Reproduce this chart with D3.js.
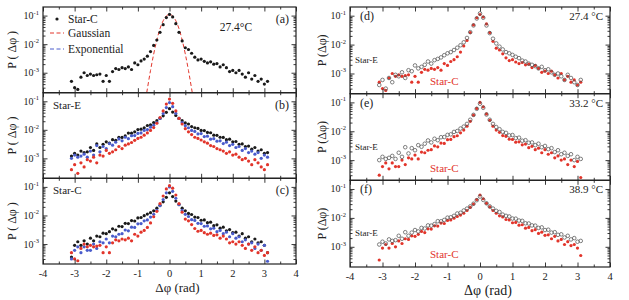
<!DOCTYPE html>
<html><head><meta charset="utf-8">
<script src="https://cdn.jsdelivr.net/npm/d3@7"></script>
<style>
body{margin:0;background:#fff}
svg{display:block}
text{font-family:"Liberation Serif","Times New Roman",serif;fill:#222}
</style>
</head><body>
<svg id="c" width="629" height="300" font-family="Liberation Serif, Times New Roman, serif"></svg>
<script>
// ---------------- data ----------------
const phi = [-3.1,-3.0,-2.9,-2.8,-2.7,-2.6,-2.5,-2.4,-2.3,-2.2,-2.1,-2.0,-1.9,-1.8,-1.7,-1.6,-1.5,-1.4,-1.3,-1.2,-1.1,-1.0,-0.9,-0.8,-0.7,-0.6,-0.5,-0.4,-0.3,-0.2,-0.1,
  0,0.1,0.2,0.3,0.4,0.5,0.6,0.7,0.8,0.9,1.0,1.1,1.2,1.3,1.4,1.5,1.6,1.7,1.8,1.9,2.0,2.1,2.2,2.3,2.4,2.5,2.6,2.7,2.8,2.9,3.0,3.1];

// Star-C, 27.4 °C
const starC274 = [0.0005,0.0003,0.00026,0.0007,0.001,0.0008,0.0009,0.0008,0.00085,0.0009,0.0005,0.0008,0.0005,0.0011,0.0014,0.0013,0.0015,0.0014,0.0016,0.0013,0.0022,0.0019,0.0026,0.003,0.0038,0.0055,0.009,0.014,0.026,0.048,0.085,
  0.11,0.09,0.052,0.026,0.013,0.0075,0.0065,0.0048,0.0035,0.0028,0.003,0.0025,0.0022,0.0024,0.002,0.0021,0.0016,0.0019,0.0015,0.0011,0.0012,0.001,0.0012,0.0009,0.0007,0.001,0.0006,0.0008,0.0005,0.0006,0.0004,0.0005];
// Star-E, 27.4 °C
const starE274 = [0.0004,0.0006,0.0003,0.0007,0.0005,0.0009,0.0008,0.0011,0.0007,0.0013,0.0012,0.0019,0.0015,0.0017,0.002,0.0026,0.0022,0.0029,0.0032,0.0036,0.0043,0.005,0.0055,0.0065,0.0078,0.0095,0.012,0.017,0.027,0.046,0.08,
  0.12,0.085,0.046,0.025,0.016,0.011,0.0085,0.0068,0.0055,0.005,0.0044,0.0038,0.0034,0.0028,0.0026,0.0022,0.002,0.0018,0.0015,0.0017,0.0013,0.0014,0.0011,0.0009,0.001,0.0008,0.0006,0.0009,0.0007,0.0005,0.0004,0.0006];
// Star-E, 33.2 °C
const starE332 = [0.001,0.0013,0.0011,0.0012,0.0014,0.0011,0.0018,0.0013,0.0028,0.0017,0.0026,0.0022,0.0033,0.0029,0.0037,0.0048,0.0041,0.0055,0.0049,0.0062,0.0063,0.0075,0.0078,0.0095,0.0102,0.0124,0.0145,0.018,0.025,0.037,0.06,
  0.09,0.065,0.038,0.025,0.018,0.014,0.0118,0.0095,0.0088,0.0072,0.0074,0.0058,0.006,0.0047,0.0049,0.004,0.0041,0.0033,0.0037,0.0028,0.0031,0.0024,0.0026,0.0019,0.0022,0.0016,0.0018,0.0014,0.0016,0.001,0.0013,0.0011];
// Star-C, 33.2 °C
const starC332 = [0.0003,0.0006,0.0008,0.0005,0.0008,0.0006,0.0006,0.001,0.0007,0.0012,0.0011,0.0015,0.0011,0.0019,0.0018,0.0022,0.0023,0.0031,0.0029,0.0039,0.0038,0.0051,0.0052,0.0065,0.007,0.0088,0.011,0.015,0.022,0.036,0.062,
  0.1,0.07,0.04,0.024,0.015,0.011,0.0092,0.0071,0.0067,0.0053,0.0052,0.0042,0.0043,0.0034,0.0036,0.0027,0.003,0.0023,0.0026,0.0018,0.0023,0.0016,0.0018,0.0012,0.0014,0.001,0.0011,0.0007,0.001,0.0006,0.0009,0.00025];
// Star-E, 38.9 °C
const starE389 = [0.0012,0.0015,0.0013,0.0018,0.0016,0.0017,0.0024,0.0019,0.0032,0.0024,0.0031,0.0038,0.0034,0.0045,0.0043,0.0055,0.0054,0.0061,0.0077,0.0076,0.0085,0.0102,0.0105,0.0118,0.0142,0.015,0.018,0.021,0.025,0.031,0.041,
  0.055,0.042,0.032,0.025,0.021,0.0175,0.016,0.013,0.0118,0.0112,0.0095,0.0094,0.0081,0.0079,0.0065,0.0064,0.0055,0.0054,0.0045,0.0047,0.0038,0.0039,0.0031,0.0032,0.0026,0.0027,0.0021,0.0024,0.0018,0.002,0.0015,0.0016];
// Star-C, 38.9 °C
const starC389 = [0.00035,0.0009,0.0012,0.0009,0.0013,0.001,0.0016,0.0013,0.0019,0.0018,0.0024,0.0023,0.0027,0.0034,0.0031,0.0042,0.0041,0.0053,0.0052,0.0066,0.0064,0.0082,0.0085,0.0098,0.0112,0.0125,0.0145,0.018,0.023,0.03,0.043,
  0.062,0.046,0.032,0.024,0.018,0.0145,0.0118,0.0108,0.0088,0.0085,0.0068,0.007,0.0056,0.0058,0.0044,0.0047,0.0036,0.0039,0.0029,0.0032,0.0025,0.0026,0.0019,0.0023,0.0016,0.0018,0.0012,0.0015,0.0011,0.0012,0.0009,0.0005];

// Gaussian fit curve in panel (a)
const gaussX = [-0.72,-0.6,-0.5,-0.4,-0.3,-0.2,-0.1,0,0.1,0.2,0.3,0.4,0.5,0.6,0.72];
const gaussY = [0.0002,0.0012,0.0045,0.014,0.035,0.066,0.097,0.11,0.097,0.066,0.035,0.014,0.0045,0.0012,0.0002];

const xTicks = [-4,-3,-2,-1,0,1,2,3,4];
const xTickLabels = ["-4","-3","-2","-1","0","1","2","3","4"];
const xMinor = [-3.5,-2.5,-1.5,-0.5,0.5,1.5,2.5,3.5];
const yTicks = [0.1,0.01,0.001];
const yTickExp = ["-1","-2","-3"];

// ---------------- layout ----------------
const BLACK="#1a1a1a", BLUE="#4a5ccc", RED="#e2352b", GREY="#555";
const FONT = "Liberation Serif, Times New Roman, serif";
const svg = d3.select("#c");
const yMinor = [];
[1e-4,1e-3,1e-2].forEach(d=>{for(let k=2;k<=9;k++){const v=k*d; if(v>2.01e-4) yMinor.push(v);}});

const panels = [
 {id:"a", x0:43, x1:296, top:7, h:85.7, bottom:false, col:"L",
  series:[{v:starC274, kind:"dot", c:BLACK}], label:"(a)", temp:"27.4°C"},
 {id:"b", x0:43, x1:296, top:92.7, h:85.6, bottom:false, col:"L",
  series:[{v:starE389,kind:"dot",c:BLACK},{v:starE332,kind:"dot",c:BLUE},{v:starE274,kind:"dot",c:RED}], label:"(b)", name:"Star-E"},
 {id:"c", x0:43, x1:296, top:178.3, h:85.7, bottom:true, col:"L",
  series:[{v:starC389,kind:"dot",c:BLACK},{v:starC332,kind:"dot",c:BLUE},{v:starC274,kind:"dot",c:RED}], label:"(c)", name:"Star-C"},
 {id:"d", x0:350, x1:610, top:7, h:86.7, bottom:false, col:"R",
  series:[{v:starC274,kind:"dot",c:RED},{v:starE274,kind:"ring",c:GREY}], label:"(d)", temp:"27.4 °C"},
 {id:"e", x0:350, x1:610, top:93.7, h:86.6, bottom:false, col:"R",
  series:[{v:starC332,kind:"dot",c:RED},{v:starE332,kind:"ring",c:GREY}], label:"(e)", temp:"33.2 °C"},
 {id:"f", x0:350, x1:610, top:180.3, h:86.7, bottom:true, col:"R",
  series:[{v:starC389,kind:"dot",c:RED},{v:starE389,kind:"ring",c:GREY}], label:"(f)", temp:"38.9 °C"}
];

const defs = svg.append("defs");
const txt = (g) => g.append("text").attr("font-family",FONT);

panels.forEach(p=>{
  const bot = p.top+p.h;
  const x = d3.scaleLinear().domain([-4,4]).range([p.x0,p.x1]);
  const y = d3.scaleLog().domain([2e-4,0.2]).range([bot,p.top]);
  const g = svg.append("g");
  defs.append("clipPath").attr("id","clip"+p.id).append("rect")
    .attr("x",p.x0).attr("y",p.top).attr("width",p.x1-p.x0).attr("height",p.h);
  const plot = g.append("g").attr("clip-path","url(#clip"+p.id+")");

  if(p.id==="a"){
    const line = d3.line().x((d,i)=>x(gaussX[i])).y(d=>y(d)).curve(d3.curveMonotoneX);
    plot.append("path").attr("d",line(gaussY)).attr("fill","none").attr("stroke",RED)
      .attr("stroke-width",1).attr("stroke-dasharray","4,2.5");
  }
  p.series.forEach(s=>{
    const pts = plot.append("g").selectAll("circle").data(s.v).join("circle")
      .attr("cx",(d,i)=>x(phi[i])).attr("cy",d=>y(d));
    if(s.kind==="dot") pts.attr("r",1.6).attr("fill",s.c);
    else pts.attr("r",1.8).attr("fill","none").attr("stroke",s.c).attr("stroke-width",0.75);
  });

  const tk = (axis, tr) => g.append("g").attr("transform",tr).call(axis)
      .call(a=>{a.select(".domain").remove(); a.selectAll("line").attr("stroke","#222").attr("stroke-width",0.9);});
  tk(d3.axisBottom(x).tickValues(xTicks).tickSize(-4.5).tickFormat(""), `translate(0,${bot})`);
  tk(d3.axisBottom(x).tickValues(xMinor).tickSize(-2.5).tickFormat(""), `translate(0,${bot})`);
  tk(d3.axisTop(x).tickValues(xTicks).tickSize(-4.5).tickFormat(""), `translate(0,${p.top})`);
  tk(d3.axisTop(x).tickValues(xMinor).tickSize(-2.5).tickFormat(""), `translate(0,${p.top})`);
  tk(d3.axisLeft(y).tickValues(yTicks).tickSize(-4.5).tickFormat(""), `translate(${p.x0},0)`);
  tk(d3.axisLeft(y).tickValues(yMinor).tickSize(-2.5).tickFormat(""), `translate(${p.x0},0)`);
  tk(d3.axisRight(y).tickValues(yTicks).tickSize(-4.5).tickFormat(""), `translate(${p.x1},0)`);
  tk(d3.axisRight(y).tickValues(yMinor).tickSize(-2.5).tickFormat(""), `translate(${p.x1},0)`);

  g.append("rect").attr("x",p.x0).attr("y",p.top).attr("width",p.x1-p.x0).attr("height",p.h)
    .attr("fill","none").attr("stroke","#222").attr("stroke-width",1.2);

  yTicks.forEach((v,i)=>{
    const t = txt(g).attr("x",p.x0-4).attr("y",y(v)+3.5).attr("text-anchor","end").attr("font-size",10);
    t.append("tspan").text("10");
    t.append("tspan").attr("font-size",6.5).attr("dy",-4.5).text(yTickExp[i]);
  });
  const yc = p.top+p.h/2;
  const tx = p.col==="L" ? 16 : 326;
  txt(g).attr("transform",`translate(${tx},${yc}) rotate(-90)`).attr("text-anchor","middle")
    .attr("font-size",12).text(p.col==="L" ? "P ( Δφ )" : "P (Δφ)");

  if(p.bottom){
    xTicks.forEach((v,i)=>{
      txt(g).attr("x",x(v)).attr("y",bot+13).attr("text-anchor","middle").attr("font-size",10.5).text(xTickLabels[i]);
    });
    txt(g).attr("x",(p.x0+p.x1)/2+8).attr("y",bot+28).attr("text-anchor","middle")
      .attr("font-size",p.col==="L"?13:14).text("Δφ (rad)");
  }

  if(p.col==="L"){
    txt(g).attr("x",p.x1-7).attr("y",p.top+16).attr("text-anchor","end").attr("font-size",12).text(p.label);
    if(p.name) txt(g).attr("x",p.x0+10).attr("y",p.top+16).attr("font-size",11).text(p.name);
  } else {
    txt(g).attr("x",p.x0+10).attr("y",p.top+13).attr("font-size",12).text(p.label);
    txt(g).attr("x",p.x1-7).attr("y",p.top+13).attr("text-anchor","end").attr("font-size",11).text(p.temp);
    txt(g).attr("x",p.x0+5).attr("y",p.top+56).attr("font-size",9).text("Star-E");
    txt(g).attr("x",p.x0+80).attr("y",p.top+78).attr("font-size",11).style("fill",RED).text("Star-C");
  }
  if(p.id==="a"){
    txt(g).attr("x",x(2.1)).attr("y",p.top+24).attr("text-anchor","middle").attr("font-size",11.5).text(p.temp);
    g.append("circle").attr("cx",p.x0+14).attr("cy",p.top+12).attr("r",1.6).attr("fill",BLACK);
    txt(g).attr("x",p.x0+25).attr("y",p.top+16).attr("font-size",11.5).text("Star-C");
    g.append("line").attr("x1",p.x0+7).attr("x2",p.x0+21).attr("y1",p.top+26).attr("y2",p.top+26)
      .attr("stroke",RED).attr("stroke-width",1).attr("stroke-dasharray","4,2.5");
    txt(g).attr("x",p.x0+25).attr("y",p.top+30).attr("font-size",11.5).text("Gaussian");
    g.append("line").attr("x1",p.x0+7).attr("x2",p.x0+21).attr("y1",p.top+42).attr("y2",p.top+42)
      .attr("stroke",BLUE).attr("stroke-width",1).attr("stroke-dasharray","4,2.5");
    txt(g).attr("x",p.x0+25).attr("y",p.top+46).attr("font-size",11.5).text("Exponential");
  }
});
</script>
</body></html>
